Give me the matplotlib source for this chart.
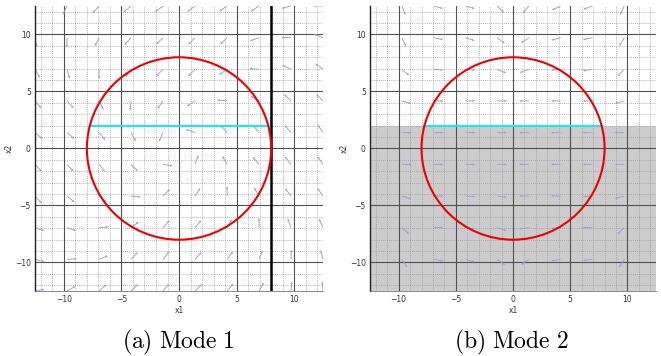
import numpy as np
import matplotlib.pyplot as plt
from matplotlib.patches import Circle, Rectangle

plt.rcParams['mathtext.fontset'] = 'cm'

# data
grid_pts = [-12.5, -9.72, -6.94, -4.17, -1.39, 1.39, 4.17, 6.94, 9.72, 12.5]
major_ticks = [-10, -5, 0, 5, 10]
minor_ticks = list(range(-12, 13))
lim = 12.5

radius = 8.0
guard_y = 2.0
guard_x = 8.0

# arrow directions (degrees), rows top (y=12.5) to bottom (y=-12.5)
mode1_angles = [
    [-120, -117, -132, -140, -143, -143, -145, -145, -165, 180],
    [-78,  -92, -117, -132, -135, -135, -135, -160,  180, 159],
    [-60,  -74,  -90, -125, -135, -135, -145,  175,  155, 143],
    [-50,  -48,  -63,  -95, -125, -147,  175,  150,  135, 135],
    [-40,  -40,  -50,  -60, -115,  160,  130,  128,  130, 125],
    [-48,  -48,  -53,  -45,  -10,   70,  120,  130,  128, 125],
    [-48,  -40,  -40,   -5,   45,   57,   90,  120,  127, 125],
    [-20,  -20,    5,   37,   48,   50,   60,   90,  110, 115],
    [-15,    3,   22,   48,   52,   48,   53,   68,   88, 105],
    [ 10,   30,   42,   45,   50,   45,   50,   60,   85,  95],
]
nan = np.nan
mode2_angles = [
    [nan, -68, -15, -15, -45, -130, -155, -160, -115, nan],
    [nan, -65, -12, -18, -37, -145, -165, -168, -120, nan],
    [nan, -40,  -4,  -4, -22, -160, -176, -172, -135, nan],
    [nan, -15,   0,   0,   0,  180,  180,  180, -165, nan],
    [nan,   0,   0,   0,   0,  180,  180,  180,  180, nan],
    [nan,   0,   0,   0,   0,  180,  180,  180,  180, nan],
    [nan, -18,   0,  -3,  -8,  180,  180, -176, -165, nan],
    [nan, -42,   0,  -8, -18, -172, -175,  180, -135, nan],
    [nan, -57, -10, -16, -35, -145, -170, -173, -122, nan],
    [nan, nan, nan, nan, nan,  nan,  nan,  nan,  nan, nan],
]
arrow_len = 0.85


def setup(ax):
    ax.set_xlim(-lim, lim)
    ax.set_ylim(-lim, lim)
    for v in minor_ticks:
        ax.axvline(v, color='#999999', lw=0.6, ls=(0, (1, 1.5)), zorder=1)
        ax.axhline(v, color='#999999', lw=0.6, ls=(0, (1, 1.5)), zorder=1)
    for v in major_ticks:
        ax.axvline(v, color='#505050', lw=0.8, zorder=1.5)
        ax.axhline(v, color='#505050', lw=0.8, zorder=1.5)
    ax.set_xticks(major_ticks)
    ax.set_yticks(major_ticks)
    ax.tick_params(length=0, labelsize=5.5, labelcolor='#333333', pad=3)
    ax.set_xlabel('x1', fontsize=5.5, color='#333333', labelpad=1)
    ax.set_ylabel('x2', fontsize=5.5, color='#333333', labelpad=1)
    for s in ['top', 'right']:
        ax.spines[s].set_visible(False)
    ax.spines['left'].set_color('#222222')
    ax.spines['bottom'].set_color('#777777')
    ax.spines['left'].set_linewidth(1.0)
    ax.spines['bottom'].set_linewidth(0.6)


def field(ax, angles):
    X, Y = np.meshgrid(grid_pts, grid_pts[::-1])
    a = np.radians(np.array(angles, dtype=float))
    U = arrow_len * np.cos(a)
    V = arrow_len * np.sin(a)
    ok = ~np.isnan(a)
    ax.quiver(X[ok], Y[ok], U[ok], V[ok], angles='xy', scale_units='xy',
              scale=1, pivot='tail', color='#9d9dda', width=0.0032,
              headwidth=2.8, headlength=3, headaxislength=2.6, zorder=2)


def system(ax):
    ax.add_patch(Circle((0, 0), radius, fill=False, ec='#ee0000', lw=1.5, zorder=4))
    half = np.sqrt(radius**2 - guard_y**2)
    ax.plot([-half, half], [guard_y, guard_y], color='#22e5ee', lw=1.6, zorder=3)


fig = plt.figure(figsize=(6.61, 3.56), dpi=100)
ax1 = fig.add_axes([0.053, 0.1826, 0.4357, 0.8006])
ax2 = fig.add_axes([0.5598, 0.1826, 0.4327, 0.8006])

setup(ax1)
field(ax1, mode1_angles)
system(ax1)
ax1.axvline(guard_x, color='black', lw=1.8, zorder=3)

setup(ax2)
ax2.add_patch(Rectangle((-lim, -lim), 2 * lim, guard_y + lim,
                        fc='#cccccc', ec='none', zorder=0.5))
field(ax2, mode2_angles)
system(ax2)

fig.text(0.270, 0.037, r'$\mathrm{(a)\ Mode\ 1}$', ha='center', va='center', fontsize=17)
fig.text(0.773, 0.037, r'$\mathrm{(b)\ Mode\ 2}$', ha='center', va='center', fontsize=17)

fig.savefig('out.png', dpi=100)
